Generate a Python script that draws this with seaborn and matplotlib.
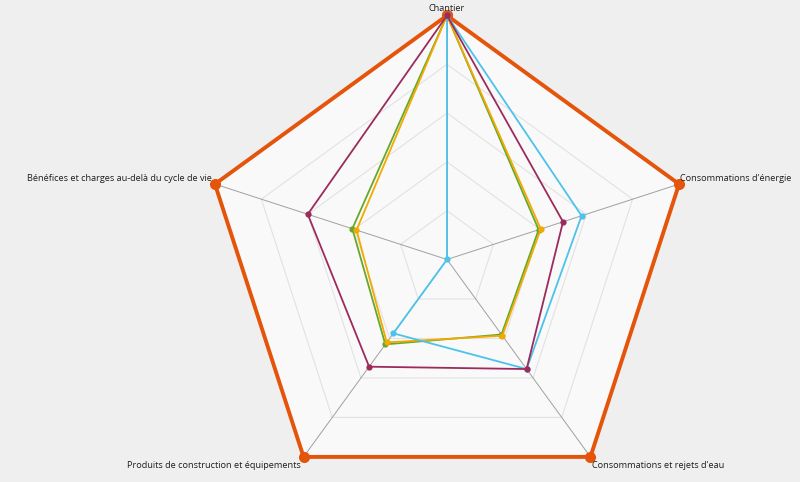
import numpy as np
import pandas as pd
import seaborn as sns
import matplotlib.pyplot as plt

# -------------------------------
# DATA
# -------------------------------
axes_labels = [
    "Chantier",
    "Consommations d'énergie",
    "Consommations et rejets d'eau",
    "Produits de construction et équipements",
    "Bénéfices et charges au-delà du cycle de vie",
]

serie_max = [1.0, 1.0, 1.0, 1.0, 1.0]
serie_vert = [1.0, 0.395, 0.38, 0.43, 0.408]
serie_jaune = [1.0, 0.404, 0.386, 0.42, 0.39]
serie_bleu = [1.0, 0.58, 0.555, 0.374, 0.0]
serie_bordeaux = [1.0, 0.50, 0.555, 0.543, 0.60]

grid_levels = [0.2, 0.4, 0.6, 0.8, 1.0]

series = [
    ("max", serie_max, "#e4540b", 2.8, 8),
    ("vert", serie_vert, "#64a82c", 1.3, 4.5),
    ("jaune", serie_jaune, "#f2a900", 1.3, 4.5),
    ("bleu", serie_bleu, "#4dc2ea", 1.3, 4.5),
    ("bordeaux", serie_bordeaux, "#9c2b5c", 1.3, 4.5),
]

# -------------------------------
# FIGURE
# -------------------------------
sns.set_style("white")
plt.rcParams["font.family"] = ["Open Sans", "DejaVu Sans"]

fig = plt.figure(figsize=(8, 4.82), dpi=100, facecolor="#efefef")
ax = fig.add_axes([0.25375, -0.0446, 0.61, 1.01245], projection="polar")
ax.set_theta_offset(np.pi / 2)
ax.set_theta_direction(-1)
ax.set_ylim(0, 1)
ax.grid(False)
ax.set_xticks([])
ax.set_yticks([])
ax.spines["polar"].set_visible(False)
ax.patch.set_alpha(0)

n = len(axes_labels)
theta = np.linspace(0, 2 * np.pi, n, endpoint=False)
theta_closed = np.append(theta, 2 * np.pi)

# interior background
ax.fill(theta_closed, np.ones(n + 1), color="#f9f9f9", zorder=0, clip_on=False)

# pentagon grid
for lvl in grid_levels:
    ax.plot(theta_closed, np.full(n + 1, lvl), color="#e2e2e2", lw=0.8, zorder=1, clip_on=False)

# spokes
for t in theta:
    ax.plot([t, t], [0, 1], color="#a0a0a0", lw=0.7, zorder=2, clip_on=False)

# series
for i, (name, vals, color, lw, ms) in enumerate(series):
    df = pd.DataFrame({"theta": theta_closed, "r": list(vals) + [vals[0]]})
    sns.lineplot(data=df, x="theta", y="r", sort=False, estimator=None, ax=ax,
                 color=color, lw=lw, marker="o", markersize=ms,
                 markeredgewidth=0, zorder=3 + i, clip_on=False)

ax.set_xlabel("")
ax.set_ylabel("")
ax.set_ylim(0, 1)

# axis labels
label_pos = [
    ((0, 1.5), "center", "bottom"),
    ((1, 1), "left", "bottom"),
    ((1, -3), "left", "top"),
    ((-2, -3), "right", "top"),
    ((-2, 1), "right", "bottom"),
]
for t, lab, (off, ha, va) in zip(theta, axes_labels, label_pos):
    ax.annotate(lab, xy=(t, 1), xytext=off, textcoords="offset points",
                ha=ha, va=va, fontsize=6.6, color="#1e1e1e", annotation_clip=False)

plt.savefig("out.png", dpi=100, facecolor=fig.get_facecolor())
